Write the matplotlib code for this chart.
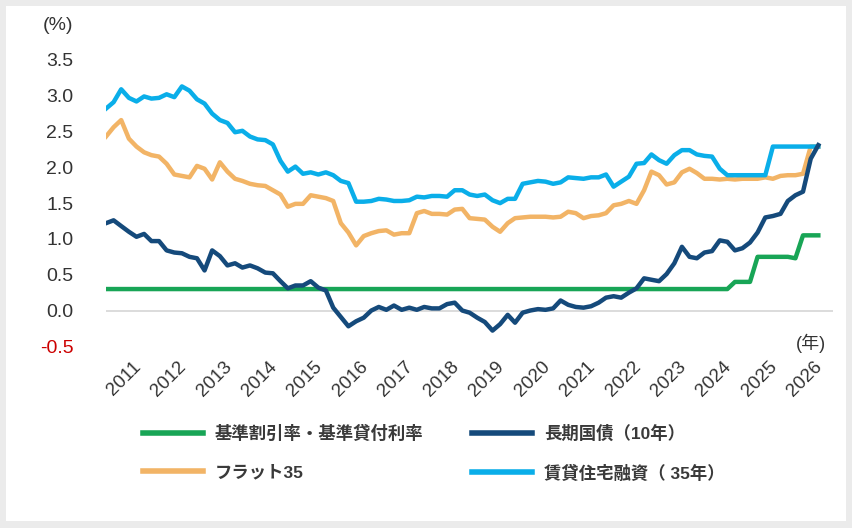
import matplotlib
matplotlib.use('Agg')
import matplotlib.pyplot as plt
import pandas as pd
from matplotlib.patches import Rectangle

plt.rcParams['font.family'] = ['Liberation Sans', 'Noto Sans CJK JP', 'DejaVu Sans']

# ---------------- data (bimonthly samples) ----------------
dates = pd.date_range('2010-03-01', periods=95, freq='2MS')

jgb10 = [1.22, 1.26, 1.18, 1.10, 1.03, 1.07, 0.97, 0.97, 0.84, 0.81,
         0.80, 0.75, 0.73, 0.56, 0.84, 0.76, 0.63, 0.66, 0.60, 0.63,
         0.59, 0.53, 0.52, 0.41, 0.31, 0.35, 0.35, 0.41, 0.32, 0.28,
         0.04, -0.09, -0.22, -0.15, -0.10, 0.00, 0.05, 0.01, 0.07, 0.01,
         0.04, 0.01, 0.05, 0.03, 0.03, 0.09, 0.11, 0.00, -0.03, -0.10,
         -0.16, -0.28, -0.19, -0.06, -0.17, -0.03, 0.00, 0.02, 0.01, 0.03,
         0.14, 0.08, 0.05, 0.04, 0.06, 0.11, 0.18, 0.20, 0.18, 0.25,
         0.31, 0.45, 0.43, 0.41, 0.51, 0.66, 0.89, 0.75, 0.73, 0.81,
         0.83, 0.98, 0.96, 0.84, 0.87, 0.95, 1.09, 1.30, 1.32, 1.35,
         1.53, 1.61, 1.66, 2.12, 2.31]

flat35 = [2.43, 2.56, 2.66, 2.40, 2.29, 2.21, 2.17, 2.15, 2.05, 1.90,
          1.88, 1.86, 2.02, 1.98, 1.83, 2.07, 1.94, 1.84, 1.81, 1.77,
          1.75, 1.74, 1.68, 1.62, 1.45, 1.49, 1.49, 1.61, 1.59, 1.57,
          1.53, 1.22, 1.09, 0.91, 1.04, 1.08, 1.11, 1.12, 1.06, 1.08,
          1.08, 1.36, 1.39, 1.35, 1.35, 1.34, 1.41, 1.42, 1.29, 1.28,
          1.27, 1.17, 1.10, 1.22, 1.29, 1.30, 1.31, 1.31, 1.31, 1.30,
          1.31, 1.38, 1.36, 1.29, 1.32, 1.33, 1.36, 1.47, 1.49, 1.53,
          1.49, 1.68, 1.94, 1.89, 1.76, 1.79, 1.93, 1.98, 1.92, 1.84,
          1.84, 1.83, 1.84, 1.83, 1.84, 1.84, 1.84, 1.86, 1.84, 1.88,
          1.89, 1.89, 1.91, 2.29, 2.29]

rental35 = [2.82, 2.91, 3.09, 2.97, 2.92, 2.99, 2.96, 2.97, 3.02, 2.98,
            3.13, 3.07, 2.95, 2.89, 2.75, 2.66, 2.62, 2.49, 2.51, 2.43,
            2.39, 2.38, 2.32, 2.09, 1.94, 2.01, 1.91, 1.93, 1.90, 1.93,
            1.89, 1.81, 1.78, 1.52, 1.52, 1.53, 1.56, 1.55, 1.53, 1.53,
            1.54, 1.59, 1.58, 1.60, 1.60, 1.59, 1.68, 1.68, 1.62, 1.60,
            1.62, 1.54, 1.50, 1.56, 1.56, 1.77, 1.79, 1.81, 1.80, 1.77,
            1.79, 1.86, 1.85, 1.84, 1.86, 1.86, 1.90, 1.73, 1.80, 1.87,
            2.05, 2.06, 2.18, 2.10, 2.05, 2.17, 2.24, 2.24, 2.18, 2.16,
            2.15, 1.98, 1.89, 1.89, 1.89, 1.89, 1.89, 1.89, 2.29, 2.29,
            2.29, 2.29, 2.29, 2.29, 2.29]

base_rate = [0.30] * 83 + [0.40, 0.40, 0.40, 0.75, 0.75, 0.75, 0.75, 0.75,
                           0.73, 1.05, 1.05, 1.05]

year_ticks = list(range(2011, 2027))
y_ticks = [-0.5, 0.0, 0.5, 1.0, 1.5, 2.0, 2.5, 3.0, 3.5]

labels = ['基準割引率・基準貸付利率', 'フラット35', '長期国債（10年）', '賃貸住宅融資（ 35年）']

GREEN = '#18a556'
ORANGE = '#f2b466'
NAVY = '#154a7b'
SKY = '#0aaee9'
TXT = '#333333'

# ---------------- figure ----------------
W, H = 852, 528
fig = plt.figure(figsize=(W / 100, H / 100), dpi=100)
fig.patch.set_facecolor('#ebebeb')
fig.add_artist(Rectangle((6 / W, 1 - 521 / H), 840 / W, 515 / H,
                         transform=fig.transFigure, facecolor='white',
                         edgecolor='none', zorder=-10))

ax_top, ax_bot = 45.6, 353.5
ax = fig.add_axes([106 / W, 1 - ax_bot / H, (833 - 106) / W, (ax_bot - ax_top) / H])
ax.set_facecolor('none')

ax.axhline(0, color='#d6d6d6', lw=1.2, zorder=1)
lw = 3.2
l_green, = ax.plot(dates, base_rate, color=GREEN, lw=lw, zorder=3, solid_joinstyle='round')
l_orange, = ax.plot(dates, flat35, color=ORANGE, lw=lw, zorder=4, solid_joinstyle='round')
l_sky, = ax.plot(dates, rental35, color=SKY, lw=lw, zorder=5, solid_joinstyle='round')
l_navy, = ax.plot(dates, jgb10, color=NAVY, lw=lw, zorder=6, solid_joinstyle='round')

ax.set_xlim(pd.Timestamp('2010-03-01'), pd.Timestamp('2026-02-27'))
ax.set_ylim(-0.6, 3.7)

for s in ax.spines.values():
    s.set_visible(False)

ax.set_yticks(y_ticks)
ax.set_yticklabels([f'{v:.1f}' for v in y_ticks])
ax.tick_params(axis='y', length=0, pad=23.5, labelsize=14, labelcolor=TXT)
for t, v in zip(ax.get_yticklabels(), y_ticks):
    if v < 0:
        t.set_color('#cc0000')

ax.set_xticks([pd.Timestamp(f'{y}-01-01') for y in year_ticks])
ax.set_xticklabels([str(y) for y in year_ticks], rotation=45, ha='right')
ax.tick_params(axis='x', length=0, pad=3.2, labelsize=13.5, labelcolor=TXT)

fig.text(58 / W, 1 - 25 / H, '(%)', ha='center', va='center', fontsize=14, color=TXT)
fig.text(811 / W, 1 - 343 / H, '(年)', ha='center', va='center', fontsize=13, color=TXT)

leg = fig.legend([l_green, l_orange, l_navy, l_sky], labels, ncol=2,
                 loc='upper left', bbox_to_anchor=(143 / W, 1 - 425 / H),
                 frameon=False, handlelength=3.45,
                 prop={'size': 12.5, 'weight': 'bold'},
                 handletextpad=0.69, columnspacing=2.78, labelspacing=1.28,
                 borderpad=0, borderaxespad=0)
for t in leg.get_texts():
    t.set_color('#3a3a3a')
for h in leg.legend_handles:
    h.set_linewidth(4)

fig.savefig('out.png', dpi=100, facecolor=fig.get_facecolor())
